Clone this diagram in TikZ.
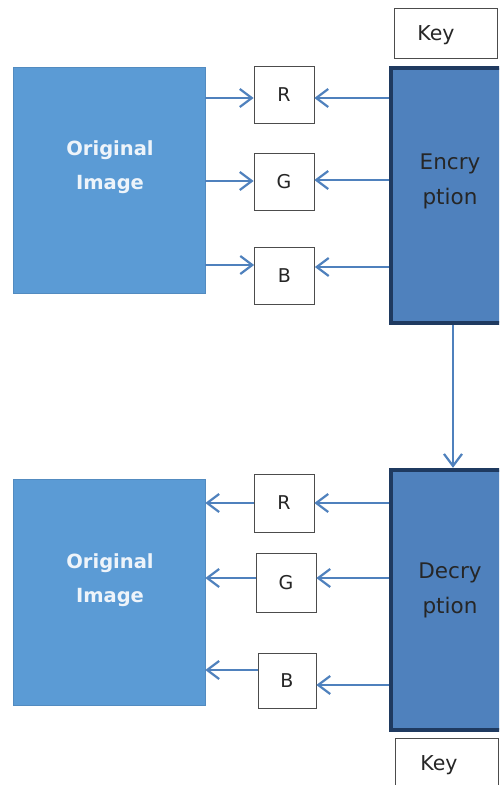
\documentclass[tikz,border=0pt]{standalone}
\usepackage{fontspec}
\setmainfont{DejaVu Sans}
\usetikzlibrary{arrows.meta}
\definecolor{imgblue}{HTML}{5B9BD5}
\definecolor{encblue}{HTML}{4F81BD}
\definecolor{navy}{HTML}{1F3A60}
\definecolor{arr}{HTML}{4F81BD}
\definecolor{txtw}{HTML}{EEF4FA}
\tikzset{
  imgbox/.style={draw=imgblue!90!black, line width=0.6pt, fill=imgblue, minimum width=192pt, minimum height=226pt, inner sep=0pt},
  imgtext/.style={text=txtw, font=\bfseries\fontsize{19.5}{34}\selectfont, align=center},
  chbox/.style={draw=black!70, line width=0.8pt, fill=white, minimum width=60pt, minimum height=57pt, font=\fontsize{19}{20}\selectfont, text=black!85, inner sep=0pt},
  cryptbox/.style={draw=navy, line width=4.5pt, fill=encblue, minimum width=113pt, inner sep=0pt},
  crypttext/.style={font=\fontsize{21.5}{35}\selectfont, align=center, text=black!85},
  keybox/.style={draw=black!70, line width=0.8pt, fill=white, minimum width=103pt, inner sep=0pt},
  keytext/.style={font=\fontsize{20.5}{20}\selectfont, text=black!85},
  flow/.style={draw=arr, line width=2.2pt, -{Straight Barb[length=12pt,width=18pt,line width=2.2pt]}}
}
\begin{document}
\begin{tikzpicture}[x=1pt,y=-1pt]
\useasboundingbox (0,0) rectangle (499,785);
\fill[white] (0,0) rectangle (499,785);
\clip (0,0) rectangle (499,785);
% top
\node[imgbox] (img1) at (109,180) {};
\node[imgtext] (t1) at (110,167) {Original\\Image};
\node[keybox, minimum height=50pt] (key1) at (445.5,33) {};
\node[keytext] (key1t) at (436,35) {Key};
\node[cryptbox, minimum height=255pt] (enc) at (447.5,195.5) {};
\node[crypttext] (enct) at (450,181) {Encry\\ption};
\node[chbox] (r1) at (284,94.5) {R};
\node[chbox] (g1) at (284,181.5) {G};
\node[chbox] (b1) at (284.5,275.5) {B};
\draw[flow] (img1.east |- 0,98) -- (r1.west |- 0,98);
\draw[flow] (img1.east |- 0,181) -- (g1.west |- 0,181);
\draw[flow] (img1.east |- 0,265) -- (b1.west |- 0,265);
\draw[flow] (enc.west |- 0,98) -- (r1.east |- 0,98);
\draw[flow] (enc.west |- 0,180) -- (g1.east |- 0,180);
\draw[flow] (enc.west |- 0,267) -- (b1.east |- 0,267);
% bottom
\node[cryptbox, minimum height=260pt] (dec) at (447.5,600) {};
\node[crypttext] (dect) at (450,590) {Decry\\ption};
\draw[flow] (enc.south -| 453,0) -- (dec.north -| 453,0);
\node[keybox, minimum height=60pt] (key2) at (447,768) {};
\node[keytext] (key2t) at (439,765) {Key};
\node[imgbox] (img2) at (109,592.5) {};
\node[imgtext] (t2) at (110,580) {Original\\Image};
\node[chbox, minimum height=58pt] (r2) at (284,503) {R};
\node[chbox, minimum height=59pt] (g2) at (286,582.5) {G};
\node[chbox, minimum width=58pt, minimum height=55pt] (b2) at (287,680.5) {B};
\draw[flow] (r2.west |- 0,503) -- (img2.east |- 0,503);
\draw[flow] (g2.west |- 0,578) -- (img2.east |- 0,578);
\draw[flow] (b2.west |- 0,670) -- (img2.east |- 0,670);
\draw[flow] (dec.west |- 0,503) -- (r2.east |- 0,503);
\draw[flow] (dec.west |- 0,578) -- (g2.east |- 0,578);
\draw[flow] (dec.west |- 0,685) -- (b2.east |- 0,685);
\end{tikzpicture}
\end{document}
